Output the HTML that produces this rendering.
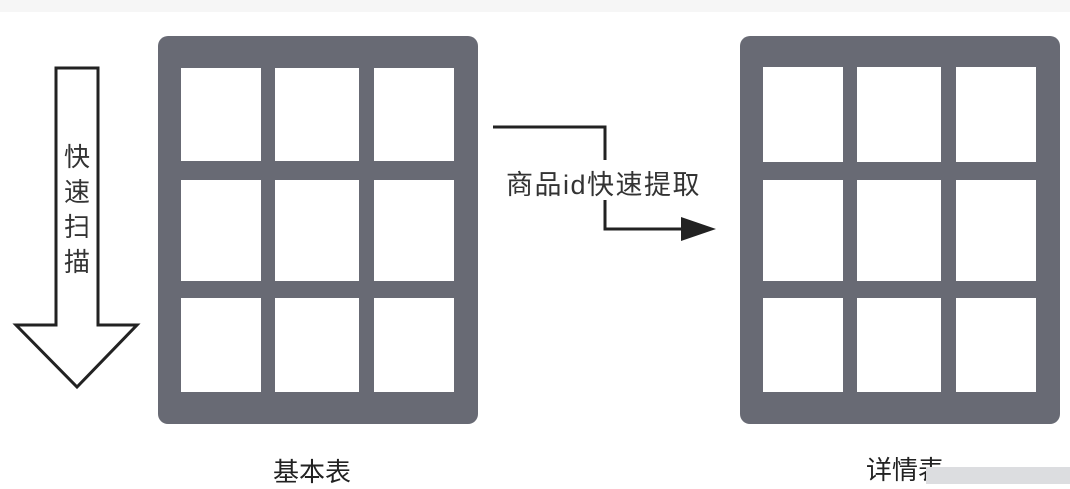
<!DOCTYPE html>
<html><head><meta charset="utf-8"><style>
body{margin:0;width:1070px;height:484px;background:#fff;overflow:hidden;position:relative;font-family:"Liberation Sans","Noto Sans CJK SC",sans-serif;}
.t{position:absolute;background:#686a74;border-radius:10px;}
.lbl{position:absolute;font-size:26px;color:#222;white-space:nowrap;}
</style></head><body>
<div style="position:absolute;left:0;top:0;width:1070px;height:12px;background:#f6f6f6"></div>
<div class="t" style="left:158px;top:36px;width:320px;height:388px"></div>
<div class="t" style="left:740px;top:36px;width:320px;height:388px"></div>
<svg width="1070" height="484" style="position:absolute;left:0;top:0">
<g fill="#fff">
<rect x="181" y="68" width="80" height="93"/><rect x="275" y="68" width="84" height="93"/><rect x="374" y="68" width="80" height="93"/>
<rect x="181" y="180" width="80" height="101"/><rect x="275" y="180" width="84" height="101"/><rect x="374" y="180" width="80" height="101"/>
<rect x="181" y="298" width="80" height="94"/><rect x="275" y="298" width="84" height="94"/><rect x="374" y="298" width="80" height="94"/>
<rect x="763" y="67" width="80" height="95"/><rect x="857" y="67" width="84" height="95"/><rect x="956" y="67" width="80" height="95"/>
<rect x="763" y="180" width="80" height="101"/><rect x="857" y="180" width="84" height="101"/><rect x="956" y="180" width="80" height="101"/>
<rect x="763" y="298" width="80" height="94"/><rect x="857" y="298" width="84" height="94"/><rect x="956" y="298" width="80" height="94"/>
</g>
<polygon points="56,68 98,68 98,325 137,325 77,387 16,325 56,325" fill="#fff" stroke="#222" stroke-width="3" stroke-linejoin="miter"/>
<text x="77" y="166" font-size="26" text-anchor="middle" fill="#333" font-family="Noto Sans CJK SC, sans-serif">快</text>
<text x="77" y="201" font-size="26" text-anchor="middle" fill="#333" font-family="Noto Sans CJK SC, sans-serif">速</text>
<text x="77" y="236" font-size="26" text-anchor="middle" fill="#333" font-family="Noto Sans CJK SC, sans-serif">扫</text>
<text x="77" y="271" font-size="26" text-anchor="middle" fill="#333" font-family="Noto Sans CJK SC, sans-serif">描</text>
<polyline points="493,127 605,127 605,160" fill="none" stroke="#222" stroke-width="3"/>
<polyline points="605,200 605,229 684,229" fill="none" stroke="#222" stroke-width="3"/>
<polygon points="681,217 716,229 681,241" fill="#222"/>
<text x="506" y="194" font-size="27" letter-spacing="1.5" fill="#333" font-family="Liberation Sans, Noto Sans CJK SC, sans-serif">商品id快速提取</text>
</svg>
<div class="lbl" style="left:273px;top:452px">基本表</div>
<div class="lbl" style="left:866px;top:450px">详情表</div>
<div style="position:absolute;left:926px;top:467px;width:144px;height:17px;background:#dcdde0"></div>
</body></html>
